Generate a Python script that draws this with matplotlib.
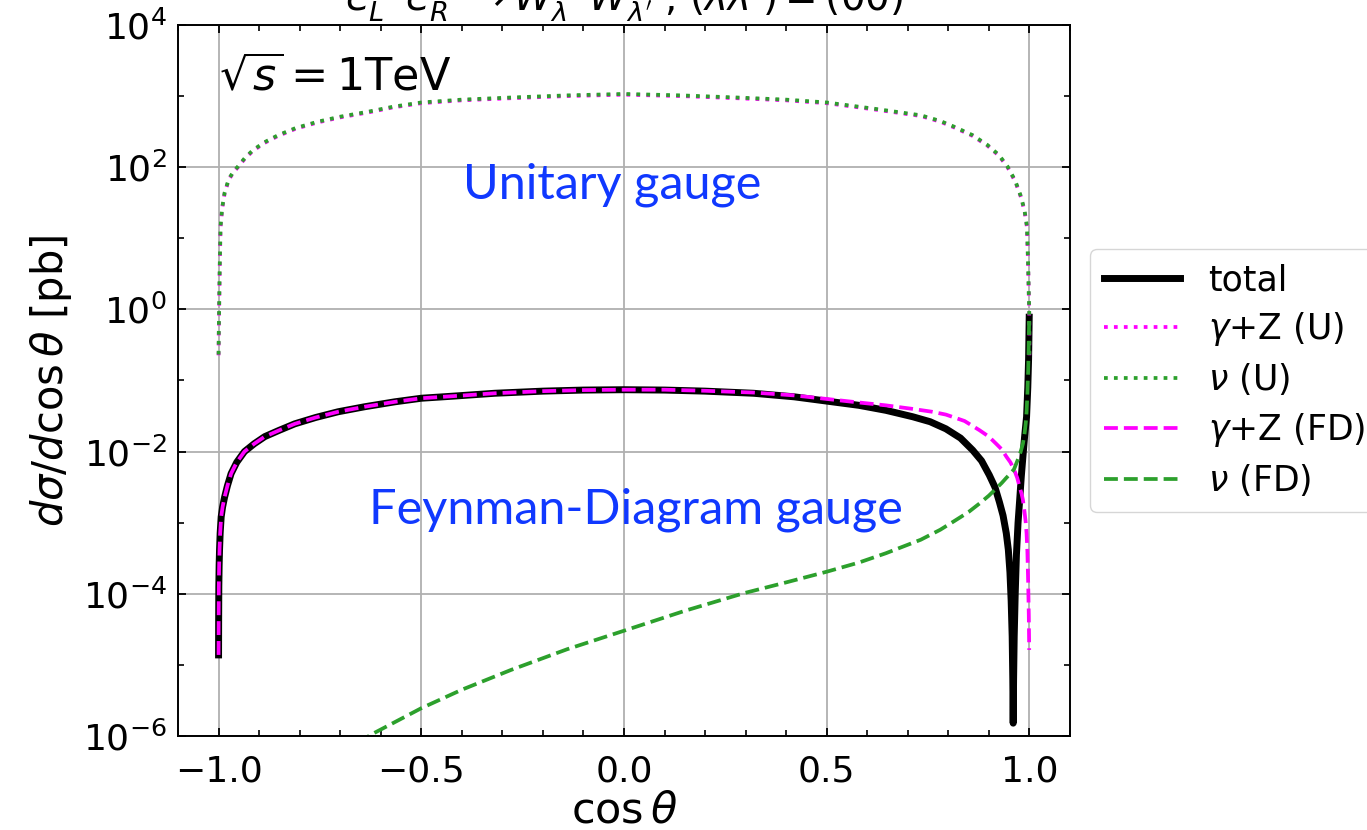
import numpy as np
import matplotlib
matplotlib.use("Agg")
import matplotlib.pyplot as plt
from matplotlib.ticker import FixedLocator, MultipleLocator, NullFormatter

# values, kept as log10(d sigma / d cos theta [pb])
cos_total = [-0.9999, -0.9997, -0.9993, -0.9985, -0.9975, -0.996, -0.9935, -0.990,
             -0.985, -0.978, -0.969, -0.955, -0.936, -0.912, -0.886, -0.85, -0.812,
             -0.76, -0.705, -0.64, -0.565, -0.5, -0.42, -0.319, -0.2, -0.1, 0.0,
             0.1, 0.2, 0.32, 0.42, 0.5, 0.58, 0.646, 0.712, 0.755, 0.794, 0.83,
             0.860, 0.882, 0.901, 0.915, 0.926, 0.935, 0.943, 0.948, 0.952, 0.955,
             0.9575, 0.959, 0.960, 0.961, 0.9625, 0.965, 0.968, 0.972, 0.976, 0.980,
             0.984, 0.988, 0.993, 0.996, 0.998, 0.9995]
total_log = [-4.86, -4.4, -3.9, -3.6, -3.38, -3.15, -2.92, -2.78,
             -2.64, -2.48, -2.31, -2.15, -2.0, -1.89, -1.79, -1.70, -1.61,
             -1.52, -1.44, -1.37, -1.30, -1.25, -1.22, -1.18, -1.15, -1.135, -1.13,
             -1.135, -1.15, -1.18, -1.23, -1.29, -1.35, -1.42, -1.51, -1.58, -1.68, -1.81,
             -1.98, -2.13, -2.33, -2.50, -2.71, -2.90, -3.15, -3.38, -3.70, -4.10,
             -4.6, -5.2, -5.82, -5.2, -4.6, -4.0, -3.45, -3.0, -2.68, -2.35,
             -2.07, -1.80, -1.51, -1.1, -0.7, -0.11]

cos_gz_fd = [-0.9999, -0.9997, -0.9993, -0.9985, -0.9975, -0.996, -0.9935, -0.990,
             -0.985, -0.978, -0.969, -0.955, -0.936, -0.912, -0.886, -0.85, -0.812,
             -0.76, -0.705, -0.64, -0.565, -0.5, -0.42, -0.319, -0.2, -0.1, 0.0,
             0.1, 0.2, 0.32, 0.42, 0.5, 0.58, 0.646, 0.712, 0.76, 0.794, 0.84,
             0.877, 0.9, 0.918, 0.932, 0.943, 0.953, 0.962, 0.970, 0.976, 0.981,
             0.984, 0.988, 0.991, 0.993, 0.995, 0.997, 0.9985, 0.9995]
gz_fd_log = [-4.86, -4.4, -3.9, -3.6, -3.38, -3.15, -2.92, -2.78,
             -2.64, -2.48, -2.31, -2.15, -2.0, -1.89, -1.79, -1.70, -1.61,
             -1.52, -1.44, -1.37, -1.30, -1.25, -1.22, -1.18, -1.15, -1.135, -1.13,
             -1.13, -1.145, -1.17, -1.21, -1.26, -1.31, -1.35, -1.40, -1.44, -1.48, -1.57,
             -1.70, -1.79, -1.89, -1.97, -2.07, -2.15, -2.25, -2.37, -2.50, -2.60,
             -2.68, -2.85, -3.0, -3.15, -3.40, -3.85, -4.3, -4.79]

cos_nu_fd = [-0.70, -0.62, -0.5, -0.4, -0.278, -0.14, 0.0, 0.15, 0.297, 0.4, 0.5,
             0.58, 0.646, 0.732, 0.78, 0.814, 0.85, 0.877, 0.9, 0.918, 0.932, 0.943,
             0.953, 0.962, 0.971, 0.978, 0.984, 0.988, 0.991, 0.993, 0.995, 0.997,
             0.998, 0.9995]
nu_fd_log = [-6.24, -5.97, -5.61, -5.35, -5.07, -4.78, -4.52, -4.24, -3.99, -3.84, -3.69,
             -3.56, -3.43, -3.24, -3.10, -2.98, -2.85, -2.73, -2.62, -2.52, -2.44, -2.37,
             -2.31, -2.25, -2.12, -2.01, -1.89, -1.75, -1.6, -1.45, -1.2, -0.85,
             -0.6, -0.11]

cos_u = [-0.9999, -0.9993, -0.9985, -0.997, -0.995, -0.991, -0.985, -0.975, -0.963,
         -0.952, -0.935, -0.915, -0.887, -0.853, -0.81, -0.755, -0.70, -0.631, -0.57,
         -0.5, -0.4, -0.278, -0.14, 0.0, 0.14, 0.278, 0.4, 0.5, 0.62, 0.732, 0.78,
         0.814, 0.86, 0.897, 0.925, 0.946, 0.965, 0.979, 0.988, 0.994, 0.997, 0.9985,
         0.9995, 0.9999]
gz_u_log = [-0.646, -0.3, 0.0, 0.6, 1.156, 1.42, 1.63, 1.82, 1.93,
            2.0, 2.12, 2.23, 2.34, 2.44, 2.54, 2.63, 2.70, 2.77, 2.84,
            2.90, 2.94, 2.97, 3.00, 3.02, 3.00, 2.97, 2.94, 2.90, 2.81, 2.72, 2.64,
            2.56, 2.44, 2.30, 2.16, 2.0, 1.80, 1.58, 1.38, 1.156, 0.59, 0.2,
            0.0, -0.646]
nu_u_log = [-0.636, -0.29, 0.01, 0.61, 1.166, 1.43, 1.64, 1.83, 1.94,
            2.01, 2.13, 2.24, 2.35, 2.45, 2.55, 2.64, 2.71, 2.78, 2.85,
            2.91, 2.95, 2.98, 3.01, 3.03, 3.01, 2.98, 2.95, 2.91, 2.82, 2.73, 2.65,
            2.57, 2.45, 2.31, 2.17, 2.01, 1.81, 1.59, 1.39, 1.166, 0.60, 0.21,
            0.01, -0.636]

xticks = [-1.0, -0.5, 0.0, 0.5, 1.0]
ymajor = [1e-6, 1e-4, 1e-2, 1e0, 1e2, 1e4]
yminor = [1e-5, 1e-3, 1e-1, 1e1, 1e3]

fig = plt.figure(figsize=(13.67, 8.30), dpi=100)
ax = fig.add_axes([0.1302, 0.1133, 0.6525, 0.8566])

ax.plot(cos_total, 10.0 ** np.array(total_log), color='black', lw=5, label='total')
ax.plot(cos_u, 10.0 ** np.array(gz_u_log), color='magenta', ls=':', lw=2.7,
        label=r'$\gamma$+Z (U)')
ax.plot(cos_u, 10.0 ** np.array(nu_u_log), color='tab:green', ls=':', lw=2.7,
        label=r'$\nu$ (U)')
ax.plot(cos_gz_fd, 10.0 ** np.array(gz_fd_log), color='magenta', ls='--', lw=2.7,
        label=r'$\gamma$+Z (FD)')
ax.plot(cos_nu_fd, 10.0 ** np.array(nu_fd_log), color='tab:green', ls='--', lw=2.7,
        label=r'$\nu$ (FD)')

ax.set_yscale('log')
ax.set_xlim(-1.1, 1.1)
ax.set_ylim(1e-6, 1e4)
ax.xaxis.set_major_locator(FixedLocator(xticks))
ax.xaxis.set_minor_locator(MultipleLocator(0.1))
ax.yaxis.set_major_locator(FixedLocator(ymajor))
ax.yaxis.set_minor_locator(FixedLocator(yminor))
ax.yaxis.set_minor_formatter(NullFormatter())
ax.tick_params(which='both', direction='in', top=True, right=True, labelsize=26)
ax.tick_params(which='major', length=6, width=1.3)
ax.tick_params(which='minor', length=4, width=1.2)
ax.tick_params(axis='x', which='major', pad=13)
ax.tick_params(axis='y', which='major', pad=8)
for sp in ax.spines.values():
    sp.set_linewidth(1.4)
ax.grid(True, which='major', color='#b0b0b0', lw=1.3)

ax.set_xlabel(r'$\cos\theta$', fontsize=31, labelpad=1)
ax.set_ylabel(r'$d\sigma/d\cos\theta$ [pb]', fontsize=30, labelpad=6)
ax.set_title(r"$e^-_L e^+_R \to W^-_\lambda W^+_{\lambda'}$, $(\lambda\lambda') = (00)$",
             fontsize=28, pad=10)

ax.text(-1.0, 10**3.25, r'$\sqrt{s} = 1$TeV', fontsize=32, ha='left', va='center')
ax.text(-0.03, 10**1.75, 'Unitary gauge', fontsize=35, color='#1038ff',
        family='Lato', ha='center', va='center')
ax.text(0.03, 10**-2.82, 'Feynman-Diagram gauge', fontsize=35, color='#1038ff',
        family='Lato', ha='center', va='center')

ax.legend(loc='center left', bbox_to_anchor=(1.003, 0.5), fontsize=25,
          handlelength=2.2, labelspacing=0.38)

fig.savefig('out.png', dpi=100)
